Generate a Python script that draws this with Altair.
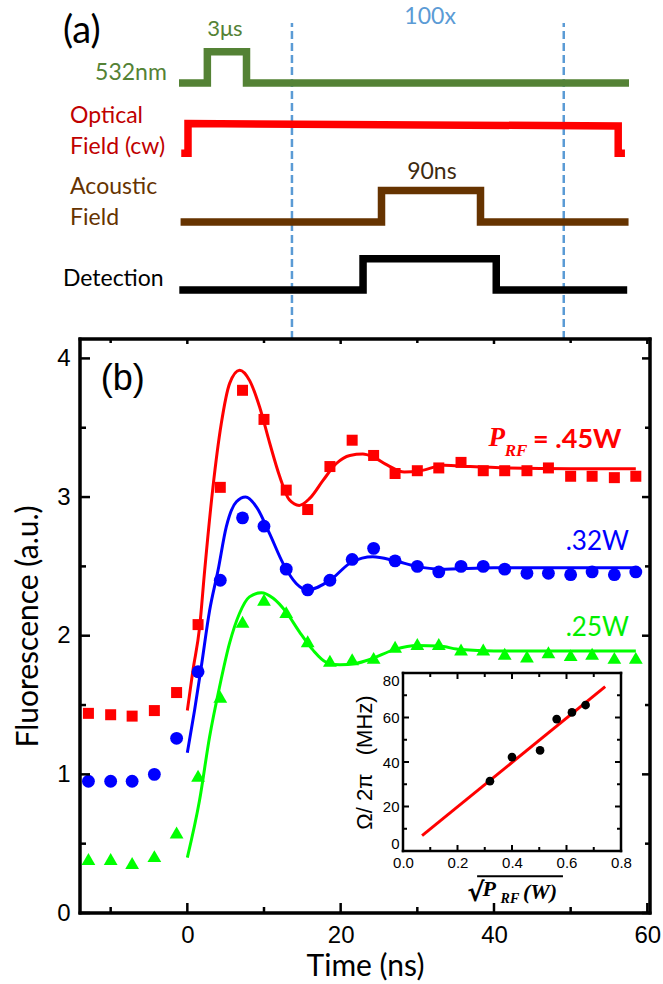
import altair as alt
import pandas as pd

# ---------------- data: panel (b) ----------------
t_pts = [-12.9, -10.0, -7.2, -4.3, -1.4, 1.4, 4.3, 7.2, 10.0, 12.9, 15.7, 18.6, 21.5,
         24.3, 27.1, 30.0, 32.8, 35.7, 38.6, 41.4, 44.3, 47.1, 50.0, 52.8, 55.7, 58.5]
red_pts = [1.44, 1.43, 1.42, 1.46, 1.59, 2.08, 3.07, 3.77, 3.56, 3.05, 2.91, 3.22, 3.41,
           3.30, 3.17, 3.19, 3.21, 3.25, 3.19, 3.19, 3.19, 3.21, 3.15, 3.15, 3.14, 3.15]
blue_pts = [0.95, 0.95, 0.95, 1.00, 1.26, 1.74, 2.40, 2.85, 2.79, 2.48, 2.33, 2.40, 2.55,
            2.63, 2.54, 2.50, 2.46, 2.50, 2.50, 2.48, 2.45, 2.45, 2.44, 2.46, 2.44, 2.46]
green_pts = [0.39, 0.39, 0.36, 0.41, 0.58, 0.99, 1.56, 2.10, 2.26, 2.17, 1.96, 1.82, 1.83,
             1.84, 1.92, 1.94, 1.94, 1.90, 1.90, 1.87, 1.85, 1.88, 1.86, 1.87, 1.84, 1.84]

red_fit_t = [0, 0.73, 1.6, 2.26, 3.34, 4.43, 5.52, 6.82, 8.13, 9.43, 10.74, 12.04, 13.3, 14.6,
             15.96, 17.7, 19.4, 21.2, 22.9, 24.2, 26.1, 28.3, 30.4, 33.5, 36.9, 42, 50, 58.5]
red_fit_f = [1.46, 1.75, 2.06, 2.47, 3.07, 3.53, 3.82, 3.915, 3.84, 3.65, 3.39, 3.15, 2.98, 2.94,
             2.99, 3.12, 3.24, 3.30, 3.31, 3.29, 3.23, 3.18, 3.19, 3.23, 3.22, 3.21, 3.205, 3.205]
blue_fit_t = [0, 0.95, 1.82, 2.9, 4.0, 5.08, 6.4, 7.6, 9.0, 10.7, 12.5, 14.2, 15.7, 18.6,
              21.4, 24.2, 27.1, 29.9, 33, 40, 50, 58.5]
blue_fit_f = [1.156, 1.464, 1.776, 2.18, 2.47, 2.785, 2.966, 3.00, 2.93, 2.74, 2.52, 2.377, 2.33, 2.40,
              2.53, 2.57, 2.54, 2.50, 2.48, 2.49, 2.49, 2.49]
green_fit_t = [0, 1.6, 2.9, 4.2, 5.5, 6.8, 8.1, 9.65, 11.2, 12.9, 14.6, 16.4, 18.1, 19.9,
               22.0, 23.9, 27.0, 30.0, 32.8, 35.7, 40, 50, 58.5]
green_fit_f = [0.40, 0.815, 1.27, 1.63, 1.944, 2.16, 2.28, 2.31, 2.27, 2.17, 2.03, 1.896, 1.81, 1.79,
               1.80, 1.83, 1.90, 1.93, 1.925, 1.90, 1.89, 1.89, 1.89]

# inset
sqrt_p = [0.319, 0.40, 0.503, 0.564, 0.62, 0.67]
omega = [31.4, 42.2, 45.2, 59.3, 62.3, 65.6]
fit_sqrt_p = [0.07, 0.742]
fit_omega = [6.9, 73.9]

# tick values
main_x_major = [0, 20, 40, 60]
main_x_minor = [-10, 10, 30, 50]
main_y_major = [0, 1, 2, 3, 4]
main_y_minor = [0.5, 1.5, 2.5, 3.5]
ins_x_major = [0.2, 0.4, 0.6]
ins_x_minor = [0.1, 0.3, 0.5, 0.7]
ins_y_major = [20, 40, 60]
ins_y_minor = [10, 30, 50, 70]

# ---------------- data: panel (a) schematic ----------------
green_sig_x = [0, 6.3, 6.3, 15.0, 15.0, 100]
green_sig_y = [81, 81, 90.9, 90.9, 81, 81]
red_sig_x = [0.5, 2.0, 2.0, 97.6, 97.6, 99.1]
red_sig_y = [58.8, 58.8, 68.2, 67.4, 58.8, 58.8]
brown_sig_x = [0.35, 45, 45, 67, 67, 99.9]
brown_sig_y = [37, 37, 47, 47, 37, 37]
black_sig_x = [0.07, 40.9, 40.9, 70.5, 70.5, 99.6]
black_sig_y = [15.5, 15.5, 25.4, 25.4, 15.5, 15.5]
dash_x = [25.1, 85.5]

W, H = 570, 574
MX = [-14, 60.35]
MY = [0, 4.14]


def main_x():
    return alt.Scale(domain=MX, range=[0, W], nice=False, zero=False)


def main_y():
    return alt.Scale(domain=MY, range=[H, 0], nice=False, zero=False)


def ins_x():
    return alt.Scale(domain=[0, 0.8], range=[323, 541], nice=False, zero=False)


def ins_y():
    return alt.Scale(domain=[0, 80], range=[512, 334], nice=False, zero=False)


def sch_x():
    return alt.Scale(domain=[0, 100], range=[99, 549], nice=False, zero=False)


def sch_y():
    return alt.Scale(domain=[0, 100], range=[0, -316], nice=False, zero=False)


def text(txt, x, y, sx, sy, **kw):
    df = pd.DataFrame({"x": [x], "y": [y], "t": [txt]})
    return alt.Chart(df).mark_text(**kw).encode(
        x=alt.X("x:Q", scale=sx(), axis=None),
        y=alt.Y("y:Q", scale=sy(), axis=None),
        text="t:N",
    )


def sig_line(xs, ys, color):
    df = pd.DataFrame({"x": xs, "y": ys, "o": list(range(len(xs)))})
    return alt.Chart(df).mark_line(color=color, strokeWidth=7.5, strokeJoin="miter",
                                   strokeCap="butt").encode(
        x=alt.X("x:Q", scale=sch_x(), axis=None),
        y=alt.Y("y:Q", scale=sch_y(), axis=None),
        order="o:Q",
    )


def yticks(vals, sy, x0, x1, w=2.5):
    df = pd.DataFrame({"v": vals})
    return alt.Chart(df).mark_rule(color="black", strokeWidth=w).encode(
        y=alt.Y("v:Q", scale=sy(), axis=None), x=alt.value(x0), x2=alt.value(x1))


def xticks(vals, sx, y0, y1, w=2.5):
    df = pd.DataFrame({"v": vals})
    return alt.Chart(df).mark_rule(color="black", strokeWidth=w).encode(
        x=alt.X("v:Q", scale=sx(), axis=None), y=alt.value(y0), y2=alt.value(y1))


def frame(xd, yd, sx, sy, w):
    # four edges of a box, each a rule drawn through the given scales
    df = pd.DataFrame({
        "x0": [xd[0], xd[1], xd[0], xd[0]],
        "x1": [xd[0], xd[1], xd[1], xd[1]],
        "y0": [yd[0], yd[0], yd[0], yd[1]],
        "y1": [yd[1], yd[1], yd[0], yd[1]],
    })
    return alt.Chart(df).mark_rule(color="black", strokeWidth=w, strokeCap="square").encode(
        x=alt.X("x0:Q", scale=sx(), axis=None), x2="x1:Q",
        y=alt.Y("y0:Q", scale=sy(), axis=None), y2="y1:Q")


layers = []

# ---- schematic (a)
dash_df = pd.DataFrame({"x": dash_x, "y0": [0, 0], "y1": [100, 100]})
layers.append(alt.Chart(dash_df).mark_rule(color="#5B9BD5", strokeWidth=2.5, strokeDash=[8, 4]).encode(
    x=alt.X("x:Q", scale=sch_x(), axis=None),
    y=alt.Y("y0:Q", scale=sch_y(), axis=None), y2="y1:Q"))
layers.append(sig_line(green_sig_x, green_sig_y, "#548235"))
layers.append(sig_line(red_sig_x, red_sig_y, "#FF0000"))
layers.append(sig_line(brown_sig_x, brown_sig_y, "#663300"))
layers.append(sig_line(black_sig_x, black_sig_y, "#000000"))

sf = "Lato"
layers += [
    text("(a)", -25.8, 97.2, sch_x, sch_y, font=sf, fontSize=38, align="left", baseline="middle"),
    text("3μs", 10.2, 98.1, sch_x, sch_y, font=sf, fontSize=22, color="#548235", align="center", baseline="middle"),
    text("100x", 55.8, 101.9, sch_x, sch_y, font=sf, fontSize=23, color="#5B9BD5", align="center", baseline="middle"),
    text("532nm", -2.7, 84.2, sch_x, sch_y, font=sf, fontSize=23, color="#548235", align="right", baseline="middle"),
    text("Optical", -24.2, 70.6, sch_x, sch_y, font=sf, fontSize=23, color="#C00000", align="left", baseline="middle"),
    text("Field (cw)", -24.2, 60.8, sch_x, sch_y, font=sf, fontSize=23, color="#C00000", align="left", baseline="middle"),
    text("90ns", 56.2, 52.8, sch_x, sch_y, font=sf, fontSize=23, color="#3d2a10", align="center", baseline="middle"),
    text("Acoustic", -24.2, 48.1, sch_x, sch_y, font=sf, fontSize=23, color="#663300", align="left", baseline="middle"),
    text("Field", -24.2, 38.3, sch_x, sch_y, font=sf, fontSize=23, color="#663300", align="left", baseline="middle"),
    text("Detection", -25.8, 19.0, sch_x, sch_y, font=sf, fontSize=23, color="black", align="left", baseline="middle"),
]

# ---- main panel (b)
pts = pd.DataFrame({"t": t_pts, "r": red_pts, "b": blue_pts, "g": green_pts})
axis_x = alt.Axis(orient="bottom", values=main_x_major, format="d", ticks=False, tickSize=0, domain=False,
                  grid=False, labelFont="Liberation Sans", labelFontSize=24, labelPadding=10,
                  labelColor="black", labelFlush=False, title="Time (ns)", titleFont="Lato",
                  titleFontSize=30, titleFontWeight="normal", titleColor="black", titlePadding=4)
axis_y = alt.Axis(orient="left", values=main_y_major, format="d", ticks=False, tickSize=0, domain=False,
                  grid=False, labelFont="Liberation Sans", labelFontSize=24, labelPadding=10,
                  labelColor="black", labelFlush=False, title="Fluorescence (a.u.)", titleFont="Lato",
                  titleFontSize=30, titleFontWeight="normal", titleColor="black", titlePadding=13)


def fit_line(ts, fs, color):
    df = pd.DataFrame({"t": ts, "f": fs})
    return alt.Chart(df).mark_line(color=color, strokeWidth=3, interpolate="monotone").encode(
        x=alt.X("t:Q", scale=main_x(), axis=None), y=alt.Y("f:Q", scale=main_y(), axis=None))


# plot-area box of panel (b)
box_df = pd.DataFrame({"k": ["box"]})
layers.append(alt.Chart(box_df).mark_rect(filled=False, fill="transparent", stroke="black", strokeWidth=3).encode(
    x=alt.value(0), x2=alt.value(W), y=alt.value(0), y2=alt.value(H)))

layers.append(fit_line(red_fit_t, red_fit_f, "#FF0000"))
layers.append(fit_line(blue_fit_t, blue_fit_f, "#0000FF"))
layers.append(fit_line(green_fit_t, green_fit_f, "#00FF00"))

layers.append(alt.Chart(pts).mark_point(shape="square", filled=True, size=121, color="#FF0000", opacity=1).encode(
    x=alt.X("t:Q", scale=main_x(), axis=axis_x), y=alt.Y("r:Q", scale=main_y(), axis=axis_y)))
layers.append(alt.Chart(pts).mark_point(shape="circle", filled=True, size=165, color="#0000FF", opacity=1).encode(
    x=alt.X("t:Q", scale=main_x(), axis=None), y=alt.Y("b:Q", scale=main_y(), axis=None)))
layers.append(alt.Chart(pts).mark_point(shape="triangle-up", filled=True, size=190, color="#00FF00", opacity=1).encode(
    x=alt.X("t:Q", scale=main_x(), axis=None), y=alt.Y("g:Q", scale=main_y(), axis=None)))

# inward ticks on all four sides
layers += [
    yticks(main_y_major, main_y, 0, 10), yticks(main_y_minor, main_y, 0, 6),
    yticks(main_y_major, main_y, W, W - 8), yticks(main_y_minor, main_y, W, W - 5),
    xticks(main_x_major, main_x, H, H - 10), xticks(main_x_minor, main_x, H, H - 6),
    xticks(main_x_major, main_x, 0, 5), xticks(main_x_minor, main_x, 0, 4),
]

# main annotations
layers += [
    text("(b)", -11.3, 3.85, main_x, main_y, font="Liberation Sans", fontSize=36, align="left", baseline="middle"),
    text("P", 39.3, 3.425, main_x, main_y, font="Liberation Serif", fontSize=27, fontStyle="italic",
         fontWeight="bold", color="#FF0000", align="left", baseline="middle"),
    text("RF", 41.4, 3.33, main_x, main_y, font="Liberation Serif", fontSize=17, fontStyle="italic",
         fontWeight="bold", color="#FF0000", align="left", baseline="middle"),
    text("= .45W", 45.1, 3.41, main_x, main_y, font="Lato", fontSize=27, fontWeight="bold",
         color="#FF0000", align="left", baseline="middle"),
    text(".32W", 57.6, 2.675, main_x, main_y, font="Lato", fontSize=26, color="#0000FF",
         align="right", baseline="middle"),
    text(".25W", 57.6, 2.055, main_x, main_y, font="Lato", fontSize=26, color="#00EE00",
         align="right", baseline="middle"),
]

# ---- inset
layers.append(frame([0.0, 0.8], [0.0, 80.0], ins_x, ins_y, 2.5))

fit_df = pd.DataFrame({"x": fit_sqrt_p, "y": fit_omega})
layers.append(alt.Chart(fit_df).mark_line(color="#FF0000", strokeWidth=3).encode(
    x=alt.X("x:Q", scale=ins_x(), axis=None), y=alt.Y("y:Q", scale=ins_y(), axis=None)))

ins_axis_x = alt.Axis(orient="bottom", offset=-62, values=[0, 0.2, 0.4, 0.6, 0.8], format=".1f",
                      ticks=False, tickSize=0, domain=False, grid=False, labelFont="Liberation Sans",
                      labelFontSize=15, labelPadding=4, labelColor="black", labelFlush=False, title=None)
ins_axis_y = alt.Axis(orient="left", offset=-323, values=[0, 20, 40, 60, 80], format="d",
                      ticks=False, tickSize=0, domain=False, grid=False, labelFont="Liberation Sans",
                      labelFontSize=15, labelPadding=4, labelColor="black", labelFlush=True,
                      labelFlushOffset=0,
                      title="Ω/ 2π\u00a0\u00a0\u00a0(MHz)", titleFont="Liberation Sans", titleFontSize=22,
                      titleFontWeight="normal", titleColor="black", titlePadding=6)
ins_df = pd.DataFrame({"x": sqrt_p, "y": omega})
layers.append(alt.Chart(ins_df).mark_point(shape="circle", filled=True, size=76, color="black", opacity=1).encode(
    x=alt.X("x:Q", scale=ins_x(), axis=ins_axis_x), y=alt.Y("y:Q", scale=ins_y(), axis=ins_axis_y)))

ib, it, il, ir = 512, 334, 323, 541
layers += [
    xticks(ins_x_major, ins_x, ib, ib - 6, 2), xticks(ins_x_minor, ins_x, ib, ib - 4, 2),
    xticks(ins_x_major, ins_x, it, it + 6, 2), xticks(ins_x_minor, ins_x, it, it + 4, 2),
    yticks(ins_y_major, ins_y, il, il + 6, 2), yticks(ins_y_minor, ins_y, il, il + 4, 2),
    yticks(ins_y_major, ins_y, ir, ir - 6, 2), yticks(ins_y_minor, ins_y, ir, ir - 4, 2),
]

# inset x title: sqrt(P_RF (W))
bar_df = pd.DataFrame({"x0": [0.272], "x1": [0.587], "y": [-11.3]})
layers.append(alt.Chart(bar_df).mark_rule(color="black", strokeWidth=2).encode(
    x=alt.X("x0:Q", scale=ins_x(), axis=None), x2="x1:Q", y=alt.Y("y:Q", scale=ins_y(), axis=None)))
layers += [
    text("√", 0.236, -19.0, ins_x, ins_y, font="DejaVu Sans", fontSize=26, fontWeight="bold",
         align="left", baseline="middle"),
    text("P", 0.292, -17.3, ins_x, ins_y, font="Liberation Serif", fontSize=22, fontStyle="italic",
         fontWeight="bold", align="left", baseline="middle"),
    text("RF", 0.358, -21.7, ins_x, ins_y, font="Liberation Serif", fontSize=14, fontStyle="italic",
         fontWeight="bold", align="left", baseline="middle"),
    text("(W)", 0.44, -18.6, ins_x, ins_y, font="Liberation Serif", fontSize=22, fontStyle="italic",
         fontWeight="bold", align="left", baseline="middle"),
]

# main frame edges drawn through the main scales
layers.append(frame(MX, MY, main_x, main_y, 3))

chart = alt.layer(*layers).resolve_scale(x="independent", y="independent").properties(
    width=W, height=H,
    autosize=alt.AutoSizeParams(type="none"),
    padding={"left": 80, "top": 339, "right": 13, "bottom": 71},
    background="white",
).configure_view(stroke=None).configure_axis(grid=False)

chart.save("out.html", embed_options={"renderer": "svg", "actions": False})
